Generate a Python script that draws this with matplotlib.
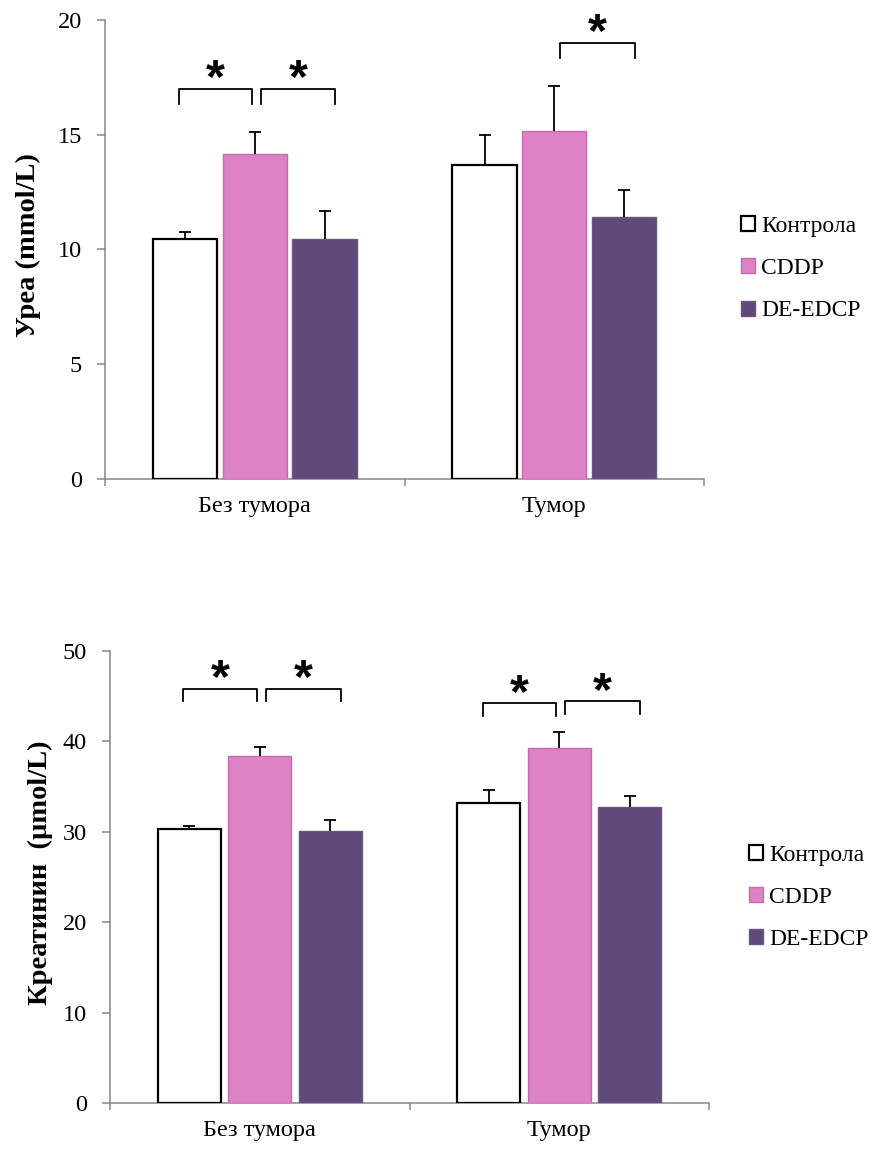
import matplotlib
matplotlib.use("Agg")
import matplotlib.pyplot as plt
import numpy as np

plt.rcParams["font.family"] = ["Liberation Serif", "DejaVu Serif"]

# ---- data ----
categories = ["Без тумора", "Тумор"]
series_names = ["Контрола", "CDDP", "DE-EDCP"]

urea_control = [10.44, 13.67]
urea_cddp = [14.16, 15.15]
urea_deedcp = [10.46, 11.43]
urea_control_err = [0.33, 1.30]
urea_cddp_err = [0.97, 1.97]
urea_deedcp_err = [1.22, 1.15]

creat_control = [30.27, 33.15]
creat_cddp = [38.37, 39.23]
creat_deedcp = [30.09, 32.77]
creat_control_err = [0.37, 1.47]
creat_cddp_err = [1.03, 1.83]
creat_deedcp_err = [1.20, 1.22]

# significance comparisons: (category index, series a, series b, bracket level)
urea_sig = [(0, 0, 1, 17.0), (0, 1, 2, 17.0), (1, 1, 2, 19.0)]
creat_sig = [(0, 0, 1, 45.8), (0, 1, 2, 45.8), (1, 0, 1, 44.2), (1, 1, 2, 44.4)]

# ---- styling ----
fills = ["white", "#DE82C6", "#604A7B"]
edges = ["black", "#C56AAE", "#6A5585"]
edge_w = [1.6, 1.0, 1.0]
spine_gray = "#868686"


def draw_panel(ax, values, errors, ylabel, ymax, ystep, sig, drop,
               bar_w, offset, label_x, legend_xy, fig):
    x = np.arange(len(categories))
    handles = []
    for i, (vals, errs) in enumerate(zip(values, errors)):
        xpos = x + (i - 1) * offset
        vals = np.asarray(vals)
        errs = np.asarray(errs)
        b = ax.bar(xpos, vals, width=bar_w, color=fills[i], edgecolor=edges[i],
                   linewidth=edge_w[i], zorder=2, label=series_names[i])
        handles.append(b)
        # upper error bar only: stem plus a cap at the top
        ax.vlines(xpos, vals, vals + errs, color="black", lw=1.3, zorder=3)
        ax.plot(xpos, vals + errs, ls="none", marker="_", markersize=8.5,
                mew=1.3, color="black", zorder=3)

    # significance brackets with stars
    for cat, a, bb, level in sig:
        ca = cat + (a - 1) * offset
        cb = cat + (bb - 1) * offset
        if a == 0:
            x0, x1 = ca - 0.02, cb - 0.01
        else:
            x0, x1 = ca + 0.02, cb + 0.035
        ax.plot([x0, x0, x1, x1], [level - drop, level, level, level - drop],
                color="black", lw=1.3, solid_joinstyle="round", zorder=4,
                clip_on=False)
        ax.annotate("*", xy=((x0 + x1) / 2, level), xytext=(0, -2.5),
                    textcoords="offset points", ha="center", va="baseline",
                    fontsize=35, fontweight="bold",
                    family=["Liberation Sans", "DejaVu Sans"])

    ax.set_xlim(-0.5, 1.5)
    ax.set_ylim(0, ymax)
    ax.set_yticks(np.arange(0, ymax + 0.1, ystep))
    ax.tick_params(axis="y", direction="out", length=5.5, width=1.1,
                   color=spine_gray, labelsize=17.5, pad=11)
    ax.set_xticks([-0.5, 0.5, 1.5])
    ax.set_xticklabels([])
    ax.tick_params(axis="x", which="major", direction="out", length=5,
                   width=1.1, color=spine_gray)
    ax.set_xticks(x, minor=True)
    ax.set_xticklabels(categories, minor=True)
    ax.tick_params(axis="x", which="minor", length=0, labelsize=17.5, pad=12)

    for side in ("top", "right"):
        ax.spines[side].set_visible(False)
    for side in ("left", "bottom"):
        ax.spines[side].set_color(spine_gray)
        ax.spines[side].set_linewidth(1.1)
        ax.spines[side].set_zorder(1)

    ax.set_ylabel(ylabel, fontsize=20.5, fontweight="bold", va="center")
    ax.yaxis.set_label_coords(label_x, 0.51)

    ax.legend(handles=handles, loc="center left", bbox_to_anchor=legend_xy,
              bbox_transform=fig.transFigure, frameon=False, fontsize=17,
              borderpad=0, borderaxespad=0, handlelength=0.6,
              handleheight=0.6, handletextpad=0.25, labelspacing=0.9)


fig = plt.figure(figsize=(8.76, 11.58), dpi=100)
ax1 = fig.add_axes([0.1199, 0.5864, 0.6838, 0.3964])
ax2 = fig.add_axes([0.1256, 0.0472, 0.6838, 0.3908])

draw_panel(ax1,
           [urea_control, urea_cddp, urea_deedcp],
           [urea_control_err, urea_cddp_err, urea_deedcp_err],
           "Уреа (mmol/L)", 20, 5, urea_sig, 0.65,
           0.215, 0.233, -0.128, (0.846, 0.768), fig)

draw_panel(ax2,
           [creat_control, creat_cddp, creat_deedcp],
           [creat_control_err, creat_cddp_err, creat_deedcp_err],
           "Креатинин  (µmol/L)", 50, 10, creat_sig, 1.35,
           0.21, 0.235, -0.117, (0.855, 0.225), fig)

fig.savefig("out.png", dpi=100, facecolor="white")
